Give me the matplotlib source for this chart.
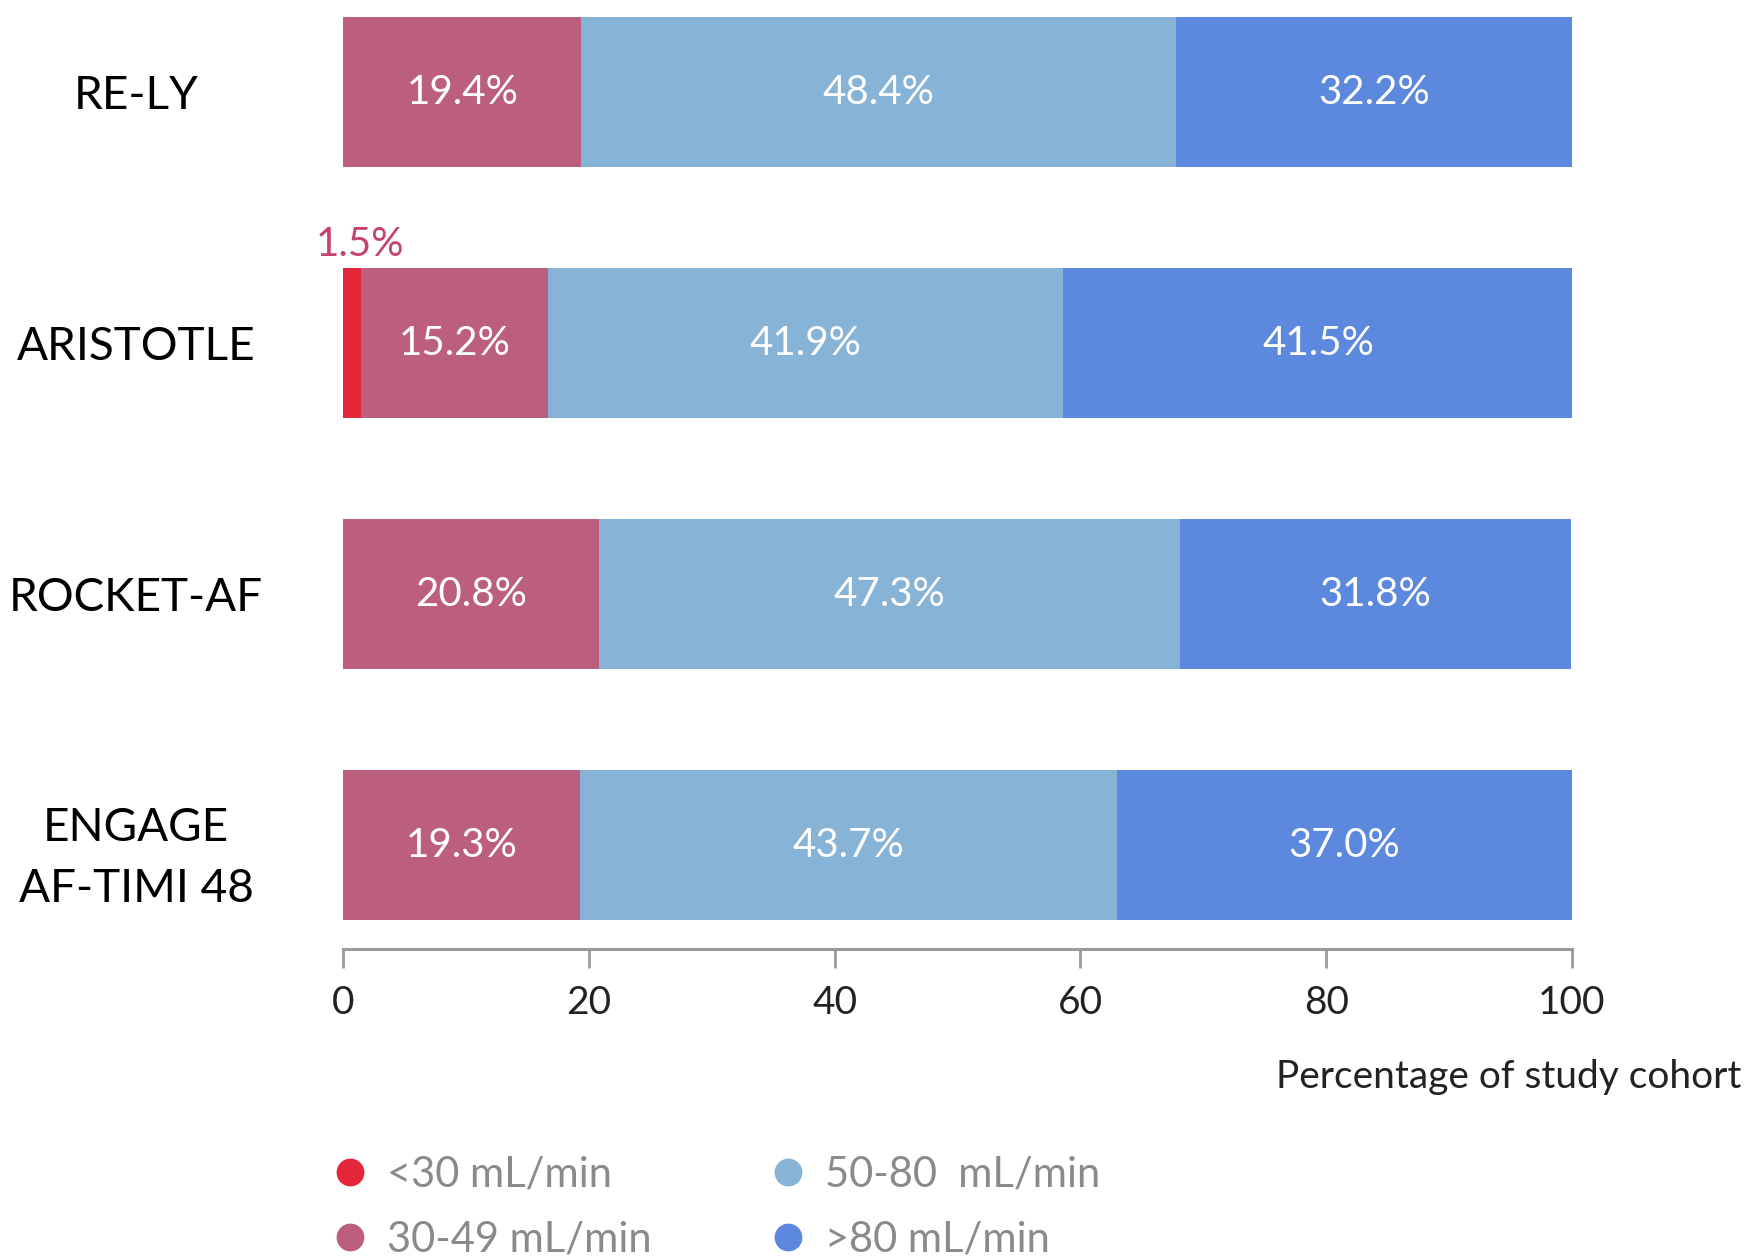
import matplotlib.pyplot as plt
from matplotlib.lines import Line2D
import numpy as np

plt.rcParams['font.family'] = ['Lato', 'DejaVu Sans']

# data
trials = ['RE-LY', 'ARISTOTLE', 'ROCKET-AF', 'ENGAGE\nAF-TIMI 48']
lt30 = [0.0, 1.5, 0.0, 0.0]
r30_49 = [19.4, 15.2, 20.8, 19.3]
r50_80 = [48.4, 41.9, 47.3, 43.7]
gt80 = [32.2, 41.5, 31.8, 37.0]
legend_labels = ['<30 mL/min', '30-49 mL/min', '50-80  mL/min', '>80 mL/min']
colors = ['#e3263a', '#bc5f7e', '#87b3d6', '#5c88de']

fig = plt.figure(figsize=(17.47, 12.57), dpi=100)
ax = fig.add_axes([343/1747, 1 - 949/1257, 1229/1747, 949/1257])

y = np.arange(len(trials))
series = [lt30, r30_49, r50_80, gt80]
left = np.zeros(len(trials))
for k, vals in enumerate(series):
    vals = np.array(vals)
    ax.barh(y, vals, left=left, height=0.6, color=colors[k], linewidth=0)
    # white labels in the wide segments
    if k > 0:
        for i, v in enumerate(vals):
            ax.text(left[i] + v / 2, y[i], '%.1f%%' % v, color='white',
                    ha='center', va='center', fontsize=29)
    else:
        for i, v in enumerate(vals):
            if v > 0:
                ax.text(left[i] + v / 2 + 0.6, y[i] - 0.32, '%.1f%%' % v,
                        color='#c4436b', ha='center', va='bottom', fontsize=29)
    left = left + vals

ax.set_xlim(0, 100)
ax.set_ylim(3.414, -0.367)
ax.set_xticks([0, 20, 40, 60, 80, 100])
ax.tick_params(axis='x', length=14, width=2, color='#9a9a9a', labelsize=28,
               labelcolor='#222222', pad=12)
ax.set_yticks(y)
ax.set_yticklabels(trials, fontsize=33, ha='center', linespacing=1.55)
ax.tick_params(axis='y', length=0, pad=149)
for s in ['top', 'right', 'left']:
    ax.spines[s].set_visible(False)
ax.spines['bottom'].set_color('#9a9a9a')
ax.spines['bottom'].set_linewidth(2.2)

fig.text(1741/1747, 1 - 1077/1257, 'Percentage of study cohort',
         ha='right', va='center', fontsize=28, color='#222222')

handles = [Line2D([], [], marker='o', linestyle='', markersize=19,
                  markerfacecolor=c, markeredgecolor=c) for c in colors]
leg = fig.legend(handles, legend_labels, ncol=2, loc='upper left',
                 bbox_to_anchor=(300/1747, 1 - 1126/1257), frameon=False,
                 fontsize=30, handletextpad=0.4, columnspacing=2.75,
                 labelspacing=0.65, handlelength=1.0, borderpad=0.2)
for t in leg.get_texts():
    t.set_color('#8a8a8a')

fig.savefig('out.png', dpi=100)
